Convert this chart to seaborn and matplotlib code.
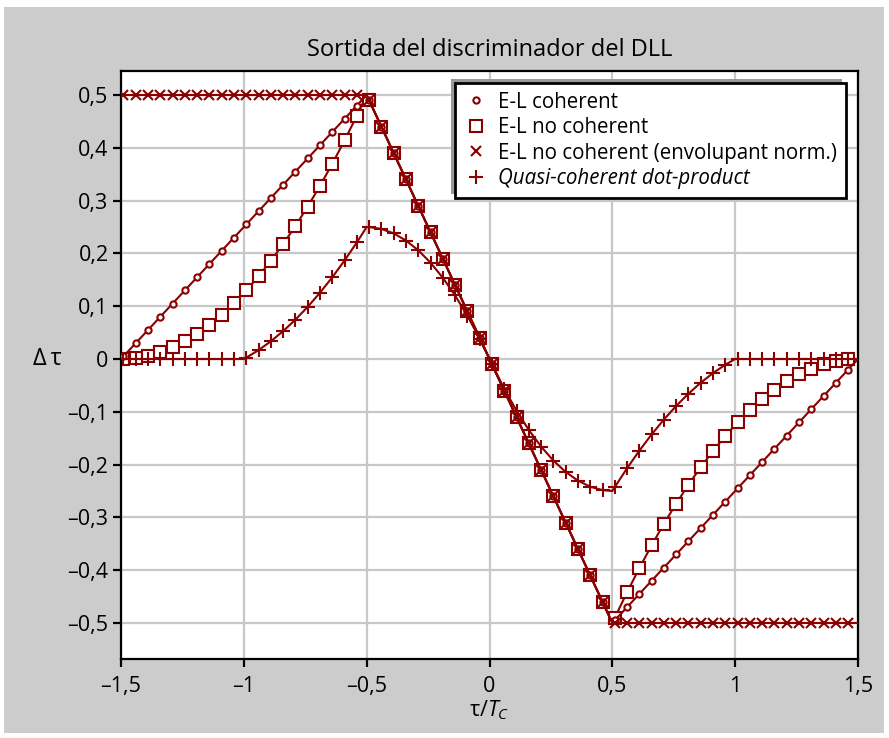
import matplotlib
matplotlib.use("Agg")
import matplotlib.pyplot as plt
from matplotlib.lines import Line2D
from matplotlib.patches import Rectangle
from matplotlib.ticker import FuncFormatter, FixedLocator
import seaborn as sns

# Delay between the prompt replica and the incoming code, in chips
tau = [-1.5, -1.49, -1.44, -1.39, -1.34, -1.29, -1.24, -1.19, -1.14, -1.09, -1.04,
       -1.0, -0.99, -0.94, -0.89, -0.84, -0.79, -0.74, -0.69, -0.64, -0.59, -0.54,
       -0.5, -0.49, -0.44, -0.39, -0.34, -0.29, -0.24, -0.19, -0.14, -0.09, -0.04,
       0.01, 0.06, 0.11, 0.16, 0.21, 0.26, 0.31, 0.36, 0.41, 0.46,
       0.5, 0.51, 0.56, 0.61, 0.66, 0.71, 0.76, 0.81, 0.86, 0.91, 0.96,
       1.0, 1.01, 1.06, 1.11, 1.16, 1.21, 1.26, 1.31, 1.36, 1.41, 1.46, 1.5]

# Discriminator outputs
el_coherent = [0.0, 0.005, 0.03, 0.055, 0.08, 0.105, 0.13, 0.155, 0.18, 0.205, 0.23,
               0.25, 0.255, 0.28, 0.305, 0.33, 0.355, 0.38, 0.405, 0.43, 0.455, 0.48,
               0.5, 0.49, 0.44, 0.39, 0.34, 0.29, 0.24, 0.19, 0.14, 0.09, 0.04,
               -0.01, -0.06, -0.11, -0.16, -0.21, -0.26, -0.31, -0.36, -0.41, -0.46,
               -0.5, -0.495, -0.47, -0.445, -0.42, -0.395, -0.37, -0.345, -0.32, -0.295, -0.27,
               -0.25, -0.245, -0.22, -0.195, -0.17, -0.145, -0.12, -0.095, -0.07, -0.045, -0.02, 0.0]

el_noncoherent = [0.0, 0.0001, 0.0018, 0.006, 0.0128, 0.022, 0.0338, 0.048, 0.0648, 0.084, 0.1058,
                  0.125, 0.13, 0.1568, 0.186, 0.2178, 0.252, 0.2888, 0.328, 0.3698, 0.414, 0.4608,
                  0.5, 0.49, 0.44, 0.39, 0.34, 0.29, 0.24, 0.19, 0.14, 0.09, 0.04,
                  -0.01, -0.06, -0.11, -0.16, -0.21, -0.26, -0.31, -0.36, -0.41, -0.46,
                  -0.5, -0.49, -0.4418, -0.396, -0.3528, -0.312, -0.2738, -0.238, -0.2048, -0.174, -0.1458,
                  -0.125, -0.12, -0.0968, -0.076, -0.0578, -0.042, -0.0288, -0.018, -0.0098, -0.004, -0.0008, 0.0]

el_envelope_norm = [0.5, 0.5, 0.5, 0.5, 0.5, 0.5, 0.5, 0.5, 0.5, 0.5, 0.5,
                    0.5, 0.5, 0.5, 0.5, 0.5, 0.5, 0.5, 0.5, 0.5, 0.5, 0.5,
                    0.5, 0.49, 0.44, 0.39, 0.34, 0.29, 0.24, 0.19, 0.14, 0.09, 0.04,
                    -0.01, -0.06, -0.11, -0.16, -0.21, -0.26, -0.31, -0.36, -0.41, -0.46,
                    -0.5, -0.5, -0.5, -0.5, -0.5, -0.5, -0.5, -0.5, -0.5, -0.5, -0.5,
                    -0.5, -0.5, -0.5, -0.5, -0.5, -0.5, -0.5, -0.5, -0.5, -0.5, -0.5, -0.5]

dot_product = [0.0, 0.0, 0.0, 0.0, 0.0, 0.0, 0.0, 0.0, 0.0, 0.0, 0.0,
               0.0, 0.0026, 0.0168, 0.0336, 0.0528, 0.0746, 0.0988, 0.1256, 0.1548, 0.1866, 0.2208,
               0.25, 0.2499, 0.2464, 0.2379, 0.2244, 0.2059, 0.1824, 0.1539, 0.1204, 0.0819, 0.0384,
               -0.0099, -0.0564, -0.0979, -0.1344, -0.1659, -0.1924, -0.2139, -0.2304, -0.2419, -0.2484,
               -0.25, -0.2426, -0.2068, -0.1736, -0.1428, -0.1146, -0.0888, -0.0656, -0.0448, -0.0266, -0.0108,
               0.0, 0.0, 0.0, 0.0, 0.0, 0.0, 0.0, 0.0, 0.0, 0.0, 0.0, 0.0]

# Breakpoints of the curves (drawn without a marker)
corners = [-1.5, -1.0, -0.5, 0.5, 1.0, 1.5]

series_labels = ["E-L coherent", "E-L no coherent",
                 "E-L no coherent (envolupant norm.)", "Quasi-coherent dot-product"]
x_ticks = [-1.5, -1.0, -0.5, 0.0, 0.5, 1.0, 1.5]
y_ticks = [-0.5, -0.4, -0.3, -0.2, -0.1, 0.0, 0.1, 0.2, 0.3, 0.4, 0.5]

sns.set_theme(style="ticks")
plt.rcParams["font.family"] = ["Open Sans", "DejaVu Sans"]
plt.rcParams["text.color"] = "black"
plt.rcParams["mathtext.fontset"] = "custom"
plt.rcParams["mathtext.rm"] = "Open Sans"
plt.rcParams["mathtext.it"] = "Open Sans:italic"

RED = "#8b0000"
W, H = 889, 738
fig = plt.figure(figsize=(W / 100, H / 100), dpi=100, facecolor="white")
fig.patches.append(Rectangle((4 / W, 5 / H), 880 / W, 726 / H, transform=fig.transFigure,
                             facecolor="#cccccc", edgecolor="none", zorder=-10))

ax = fig.add_axes([121 / W, 79 / H, 737 / W, 588 / H])
ax.set_facecolor("white")

marks = [i for i, t in enumerate(tau) if t not in corners]

# (values, marker, size, face colour, zorder)
styles = [
    (el_coherent, "o", 4.5, "white", 3),
    (el_noncoherent, "s", 8.0, "white", 2),
    (el_envelope_norm, "x", 6.5, RED, 4),
    (dot_product, "+", 9.5, RED, 5),
]
for vals, m, ms, mfc, z in styles:
    sns.lineplot(x=tau, y=vals, ax=ax, color=RED, linewidth=1.5, marker=m,
                 markersize=ms, markerfacecolor=mfc, markeredgecolor=RED,
                 markeredgewidth=1.5, markevery=marks, errorbar=None,
                 zorder=z, legend=False)

ax.set_xlim(-1.5, 1.5)
ax.set_ylim(-0.5682, 0.5455)
ax.xaxis.set_major_locator(FixedLocator(x_ticks))
ax.yaxis.set_major_locator(FixedLocator(y_ticks))


def comma_fmt(v, pos):
    s = f"{abs(v):g}".replace(".", ",")
    return "\u2013" + s if v < -1e-9 else s


ax.xaxis.set_major_formatter(FuncFormatter(comma_fmt))
ax.yaxis.set_major_formatter(FuncFormatter(comma_fmt))

ax.grid(True, color="#c8c8c8", linewidth=1.6)
ax.set_axisbelow(True)
for sp in ax.spines.values():
    sp.set_visible(True)
    sp.set_color("black")
    sp.set_linewidth(1.6)
ax.tick_params(direction="out", length=6, width=1.6, color="black",
               labelsize=15.5, labelcolor="black")
ax.tick_params(axis="x", pad=6)
ax.tick_params(axis="y", pad=3)

ax.set_title("Sortida del discriminador del DLL", fontsize=17, pad=11, color="black")
ax.set_xlabel("τ/$T_C$", fontsize=15.5, labelpad=1, color="black")
ax.set_ylabel("Δ\u2009τ", fontsize=17, rotation=0, color="black", ha="center", va="center")
ax.yaxis.set_label_coords(-0.1, (0 + 0.5682) / (0.5455 + 0.5682))

handles = [
    Line2D([], [], ls="none", marker="o", ms=4.5, mfc="white", mec=RED, mew=1.5),
    Line2D([], [], ls="none", marker="s", ms=8.0, mfc="white", mec=RED, mew=1.5),
    Line2D([], [], ls="none", marker="x", ms=6.5, mfc=RED, mec=RED, mew=1.5),
    Line2D([], [], ls="none", marker="+", ms=9.5, mfc=RED, mec=RED, mew=1.5),
]
leg = ax.legend(handles, series_labels, loc="upper right",
                bbox_to_anchor=(0.9837, 0.9796), borderaxespad=0, frameon=True,
                fancybox=False, edgecolor="black", framealpha=1, fontsize=14.8,
                labelcolor="black", handlelength=1.2, handletextpad=0.5,
                labelspacing=0.22, borderpad=0.42,
                shadow={"ox": -3, "oy": 3, "facecolor": "#999999",
                        "edgecolor": "none", "alpha": 1})
leg.get_frame().set_linewidth(2)
leg.get_texts()[3].set_fontstyle("italic")
leg.set_zorder(10)

fig.savefig("out.png", dpi=100, facecolor=fig.get_facecolor())
